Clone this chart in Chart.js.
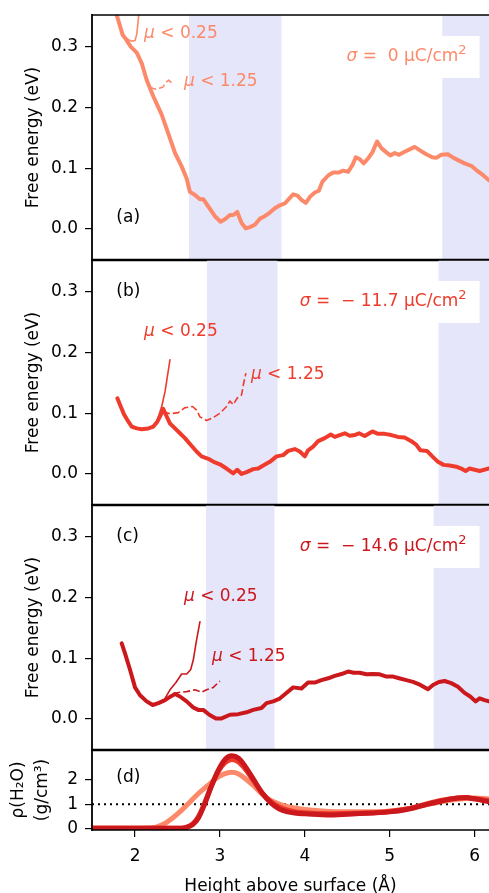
<!DOCTYPE html>
<html>
<head>
<meta charset="utf-8">
<script src="https://cdn.jsdelivr.net/npm/chart.js@4.4.1/dist/chart.umd.min.js"></script>
<style>
  html, body { margin: 0; padding: 0; background: #fff; overflow: hidden; }
  #wrap { position: relative; width: 489px; height: 893px; overflow: hidden; }
  canvas { position: absolute; left: 0; }
</style>
</head>
<body>
<div id="wrap">
  <canvas id="panel-a" width="489" height="262" style="top:0px"></canvas>
  <canvas id="panel-b" width="489" height="249" style="top:258px"></canvas>
  <canvas id="panel-c" width="489" height="249" style="top:503px"></canvas>
  <canvas id="panel-d" width="489" height="150" style="top:748px"></canvas>
</div>
<script>
// axes
const xTicks = [2, 3, 4, 5, 6];
const energyTicks = [0, 0.1, 0.2, 0.3];
const densityTicks = [0, 1, 2];
const densityRef = 1;

const colA = '#fc8a6a';
const colB = '#ef3b2c';
const colC = '#cb181d';

// shaded regions (Å)
const bandsA = [[2.635, 3.726], [5.62, 7]];
const bandsB = [[2.847, 3.679], [5.576, 7]];
const bandsC = [[2.835, 3.643], [5.518, 7]];

// (a) sigma = 0
const curveA = [[1.76,0.37],[1.784,0.352],[1.855,0.319],[1.894,0.312],[1.949,0.300],[2.02,0.290],[2.078,0.273],[2.137,0.245],[2.216,0.218],[2.314,0.188],[2.392,0.157],[2.471,0.125],[2.549,0.103],[2.608,0.083],[2.647,0.061],[2.706,0.056],[2.765,0.049],[2.804,0.049],[2.863,0.037],[2.941,0.021],[3.008,0.012],[3.059,0.016],[3.118,0.023],[3.157,0.023],[3.204,0.028],[3.255,0.010],[3.306,0.001],[3.353,0.003],[3.412,0.007],[3.471,0.017],[3.529,0.021],[3.588,0.027],[3.647,0.034],[3.706,0.039],[3.765,0.042],[3.816,0.050],[3.863,0.057],[3.914,0.055],[3.961,0.048],[4.012,0.043],[4.067,0.054],[4.118,0.060],[4.165,0.063],[4.208,0.078],[4.275,0.088],[4.333,0.093],[4.404,0.093],[4.451,0.096],[4.51,0.094],[4.561,0.105],[4.6,0.118],[4.647,0.115],[4.694,0.108],[4.745,0.116],[4.796,0.126],[4.851,0.144],[4.902,0.133],[4.961,0.126],[5.008,0.121],[5.059,0.125],[5.11,0.122],[5.176,0.127],[5.235,0.131],[5.294,0.135],[5.361,0.129],[5.431,0.123],[5.502,0.118],[5.549,0.117],[5.608,0.122],[5.686,0.123],[5.753,0.117],[5.824,0.112],[5.882,0.108],[5.961,0.104],[6.02,0.097],[6.098,0.089],[6.17,0.080]];
const lowMuA = [[1.90,0.313],[1.96,0.309],[2.0,0.310],[2.02,0.32],[2.035,0.34],[2.05,0.36],[2.06,0.37]];
const highMuA = [[2.169,0.233],[2.247,0.230],[2.325,0.233],[2.365,0.241],[2.396,0.245],[2.435,0.240]];

// (b) sigma = -11.7
const curveB = [[1.792,0.1245],[1.824,0.1136],[1.871,0.098],[1.922,0.086],[1.961,0.078],[2.02,0.075],[2.078,0.0735],[2.157,0.075],[2.216,0.078],[2.263,0.086],[2.306,0.098],[2.333,0.107],[2.365,0.097],[2.412,0.083],[2.471,0.075],[2.529,0.067],[2.588,0.059],[2.655,0.048],[2.725,0.037],[2.784,0.029],[2.863,0.025],[2.941,0.019],[3.0,0.016],[3.078,0.009],[3.157,0.001],[3.204,0.007],[3.255,0.0],[3.314,0.003],[3.392,0.008],[3.451,0.009],[3.51,0.014],[3.588,0.020],[3.667,0.029],[3.745,0.031],[3.804,0.038],[3.882,0.041],[3.941,0.037],[4.0,0.029],[4.039,0.039],[4.098,0.045],[4.157,0.054],[4.235,0.059],[4.306,0.065],[4.353,0.061],[4.412,0.064],[4.471,0.067],[4.529,0.063],[4.588,0.064],[4.639,0.067],[4.706,0.0625],[4.796,0.070],[4.863,0.066],[4.941,0.066],[5.02,0.064],[5.098,0.061],[5.176,0.060],[5.255,0.054],[5.314,0.048],[5.361,0.039],[5.439,0.038],[5.502,0.029],[5.569,0.020],[5.635,0.015],[5.706,0.014],[5.784,0.012],[5.843,0.009],[5.894,0.005],[5.941,0.009],[6.0,0.007],[6.059,0.005],[6.17,0.009]];
const lowMuB = [[2.235,0.081],[2.263,0.089],[2.314,0.111],[2.353,0.135],[2.384,0.163],[2.412,0.188]];
const highMuB = [[2.333,0.103],[2.412,0.099],[2.51,0.101],[2.588,0.109],[2.678,0.111],[2.725,0.105],[2.765,0.094],[2.843,0.088],[2.922,0.093],[3.0,0.100],[3.078,0.111],[3.118,0.120],[3.157,0.114],[3.204,0.125],[3.255,0.130],[3.275,0.146],[3.306,0.166]];

// (c) sigma = -14.6
const curveC = [[1.843,0.1245],[1.882,0.108],[1.941,0.081],[2.0,0.052],[2.059,0.039],[2.137,0.029],[2.208,0.023],[2.275,0.026],[2.353,0.031],[2.431,0.038],[2.471,0.041],[2.529,0.037],[2.608,0.029],[2.686,0.019],[2.745,0.015],[2.804,0.015],[2.875,0.007],[2.953,0.001],[3.02,0.001],[3.118,0.007],[3.216,0.008],[3.314,0.011],[3.392,0.015],[3.49,0.018],[3.549,0.026],[3.627,0.029],[3.698,0.033],[3.776,0.042],[3.863,0.052],[3.961,0.050],[4.039,0.060],[4.118,0.060],[4.196,0.064],[4.275,0.067],[4.353,0.071],[4.431,0.074],[4.51,0.078],[4.576,0.076],[4.647,0.076],[4.725,0.0735],[4.804,0.074],[4.882,0.0735],[4.953,0.070],[5.031,0.070],[5.11,0.067],[5.196,0.064],[5.275,0.061],[5.361,0.056],[5.451,0.049],[5.51,0.056],[5.58,0.061],[5.647,0.0625],[5.725,0.059],[5.804,0.053],[5.882,0.043],[5.949,0.037],[6.012,0.029],[6.059,0.034],[6.118,0.031],[6.17,0.029]];
const lowMuC = [[2.353,0.034],[2.412,0.048],[2.482,0.060],[2.549,0.074],[2.608,0.074],[2.655,0.081],[2.686,0.097],[2.725,0.130],[2.765,0.160]];
const highMuC = [[2.451,0.042],[2.529,0.044],[2.608,0.045],[2.706,0.048],[2.784,0.044],[2.843,0.048],[2.922,0.052],[3.0,0.0625]];

// (d) water density
const rhoA = [[1.49,0],[2.0,0],[2.15,0.01],[2.25,0.05],[2.35,0.2],[2.45,0.45],[2.55,0.75],[2.65,1.1],[2.75,1.45],[2.85,1.75],[2.95,2.05],[3.05,2.25],[3.14,2.32],[3.22,2.25],[3.3,2.05],[3.4,1.75],[3.5,1.4],[3.6,1.15],[3.7,1.0],[3.8,0.9],[3.9,0.83],[4.0,0.78],[4.2,0.72],[4.5,0.68],[4.8,0.68],[5.0,0.72],[5.2,0.8],[5.4,0.95],[5.6,1.1],[5.8,1.2],[6.0,1.25],[6.17,1.22]];
const rhoB = [[1.49,0],[2.5,0],[2.6,0.04],[2.68,0.18],[2.75,0.5],[2.82,1.05],[2.9,1.75],[2.98,2.35],[3.06,2.72],[3.14,2.85],[3.22,2.75],[3.3,2.45],[3.4,1.95],[3.5,1.45],[3.6,1.1],[3.7,0.88],[3.8,0.75],[3.9,0.68],[4.0,0.64],[4.3,0.6],[4.6,0.62],[5.0,0.7],[5.2,0.8],[5.4,0.98],[5.6,1.15],[5.8,1.25],[5.9,1.26],[6.0,1.22],[6.17,1.15]];
const rhoC = [[1.49,0],[2.5,0],[2.6,0.03],[2.68,0.15],[2.75,0.45],[2.82,1.0],[2.9,1.75],[2.98,2.4],[3.06,2.85],[3.14,3.0],[3.22,2.9],[3.3,2.55],[3.4,2.0],[3.5,1.45],[3.6,1.05],[3.7,0.8],[3.8,0.68],[3.9,0.62],[4.0,0.6],[4.3,0.55],[4.6,0.6],[5.0,0.68],[5.2,0.78],[5.4,0.95],[5.6,1.12],[5.8,1.25],[5.9,1.27],[6.0,1.22],[6.17,1.1]];

const X_MIN = 1.493, X_MAX = 6.17;
const FONT = '"DejaVu Sans"';

Chart.defaults.font.family = FONT;
Chart.defaults.font.size = 17;
Chart.defaults.color = '#000';

function series(points, color, width, dash, order, smooth) {
  return {
    data: points.map(p => ({ x: p[0], y: p[1] })),
    borderColor: color,
    borderWidth: width,
    borderDash: dash || [],
    borderCapStyle: dash ? 'butt' : 'round',
    borderJoinStyle: 'round',
    pointRadius: 0,
    tension: smooth ? 0.4 : 0,
    cubicInterpolationMode: smooth ? 'monotone' : 'default',
    fill: false,
    clip: 0,
    order: order
  };
}

const segFont = s => s.sup ? '13px ' + FONT : (s.it ? 'italic 17px ' + FONT : '17px ' + FONT);

// draws text with italic symbol / superscript pieces
function drawRich(ctx, segs, x, y, align, color) {
  let total = 0;
  segs.forEach(s => { ctx.font = segFont(s); total += ctx.measureText(s.t).width; });
  let cx = align === 'right' ? x - total : x;
  ctx.fillStyle = color;
  ctx.textBaseline = 'middle';
  ctx.textAlign = 'left';
  segs.forEach(s => {
    ctx.font = segFont(s);
    ctx.fillText(s.t, cx, s.sup ? y - 6 : y);
    cx += ctx.measureText(s.t).width;
  });
}

const panelPlugin = {
  id: 'panelDeco',
  beforeDatasetsDraw(chart, args, opts) {
    const { ctx, chartArea: a } = chart;
    const xs = chart.scales.x;
    ctx.save();
    ctx.fillStyle = '#e6e6fa';
    (opts.bands || []).forEach(b => {
      const x1 = Math.max(a.left, xs.getPixelForValue(b[0]));
      const x2 = Math.min(a.right, xs.getPixelForValue(b[1]));
      ctx.fillRect(x1, a.top, x2 - x1, a.bottom - a.top);
    });
    ctx.restore();
  },
  afterDatasetsDraw(chart, args, opts) {
    const { ctx, chartArea: a } = chart;
    const xs = chart.scales.x, ys = chart.scales.y;
    ctx.save();
    (opts.labels || []).forEach(l => {
      const px = xs.getPixelForValue(l.x), py = ys.getPixelForValue(l.y);
      if (l.box) {
        let w = 0;
        l.segs.forEach(s => { ctx.font = segFont(s); w += ctx.measureText(s.t).width; });
        ctx.fillStyle = '#fff';
        ctx.fillRect(px - w - 13, py - 21, w + 26, 42);
      }
      drawRich(ctx, l.segs, px, py, l.align, l.color);
    });
    // frame (no right spine, it lies past the picture edge)
    ctx.strokeStyle = '#000';
    ctx.lineWidth = 1.8;
    ctx.beginPath();
    ctx.moveTo(a.left, a.top - 1); ctx.lineTo(a.left, a.bottom + 1);
    ctx.stroke();
    ctx.lineWidth = 1.3;
    ctx.beginPath();
    ctx.moveTo(a.left, a.top); ctx.lineTo(a.right, a.top);
    ctx.stroke();
    ctx.lineWidth = opts.bottomWidth || 1.3;
    ctx.beginPath();
    ctx.moveTo(a.left, a.bottom); ctx.lineTo(a.right, a.bottom);
    ctx.stroke();
    ctx.restore();
  }
};

function sigmaLabel(value, color) {
  return { x: 5.906, y: 0.283, align: 'right', color, box: true,
    segs: [{ t: 'σ', it: true }, { t: ' =  ' + value + ' μC/cm' }, { t: '2', sup: true }] };
}
function muLabel(limit, x, y, color) {
  return { x, y, align: 'left', color, segs: [{ t: 'μ', it: true }, { t: ' < ' + limit }] };
}
function tagLabel(tag, x, y) {
  return { x, y, align: 'left', color: '#000', segs: [{ t: tag }] };
}

function noPad(s) {
  s.paddingTop = 0; s.paddingBottom = 0; s.paddingLeft = 0; s.paddingRight = 0;
}

function createPanel(id, datasets, y, deco, bottom) {
  const tickGrid = { drawOnChartArea: false, drawTicks: true, tickLength: 7, color: '#000', lineWidth: 1.2 };
  return new Chart(document.getElementById(id), {
    type: 'line',
    data: { datasets },
    plugins: [panelPlugin],
    options: {
      responsive: false,
      animation: false,
      devicePixelRatio: 1,
      events: [],
      layout: { padding: { top: y.padTop, bottom: bottom ? 0 : 2, left: 0, right: 0 } },
      plugins: { legend: { display: false }, tooltip: { enabled: false }, panelDeco: deco },
      scales: {
        x: {
          type: 'linear', min: X_MIN, max: X_MAX,
          display: !!bottom,
          afterBuildTicks: s => { s.ticks = xTicks.map(v => ({ value: v })); },
          afterFit: s => { noPad(s); if (bottom) s.height = 68; },
          grid: tickGrid,
          border: { display: false },
          ticks: { padding: 9, maxRotation: 0, callback: v => String(v) },
          title: { display: true, text: 'Height above surface (Å)', padding: { top: 0, bottom: 1 },
                   font: { size: 17, lineHeight: 1.2 } }
        },
        y: {
          type: 'linear', min: y.min, max: y.max,
          afterBuildTicks: s => { s.ticks = y.ticks.map(v => ({ value: v })); },
          afterFit: s => { noPad(s); s.width = 92; },
          grid: tickGrid,
          border: { display: false },
          ticks: { padding: 7, callback: y.fmt },
          title: { display: true, text: y.title, padding: { top: y.titlePad, bottom: 0 },
                   font: { size: 17, lineHeight: y.titleLH } }
        }
      }
    }
  });
}

const energyAxis = padTop => ({ min: -0.051, max: 0.352, ticks: energyTicks, fmt: v => v.toFixed(1),
  title: 'Free energy (eV)', titlePad: 23, titleLH: 1.2, padTop });

createPanel('panel-a', [
  series(curveA, colA, 4, null, 0),
  series(lowMuA, colA, 1.6, null, 1),
  series(highMuA, colA, 1.6, [7, 3], 2)
], energyAxis(15), {
  bands: bandsA, bottomWidth: 2.4,
  labels: [tagLabel('(a)', 1.78, 0.018), sigmaLabel('0', colA),
           muLabel('0.25', 2.106, 0.322, colA), muLabel('1.25', 2.576, 0.242, colA)]
});

createPanel('panel-b', [
  series(curveB, colB, 4, null, 0),
  series(lowMuB, colB, 1.6, null, 1),
  series(highMuB, colB, 1.6, [7, 3], 2)
], energyAxis(2), {
  bands: bandsB, bottomWidth: 2.4,
  labels: [tagLabel('(b)', 1.78, 0.30), sigmaLabel('− 11.7', colB),
           muLabel('0.25', 2.106, 0.234, colB), muLabel('1.25', 3.365, 0.163, colB)]
});

createPanel('panel-c', [
  series(curveC, colC, 4, null, 0),
  series(lowMuC, colC, 1.6, null, 1),
  series(highMuC, colC, 1.6, [7, 3], 2)
], energyAxis(2), {
  bands: bandsC, bottomWidth: 2.4,
  labels: [tagLabel('(c)', 1.78, 0.30), sigmaLabel('− 14.6', colC),
           muLabel('0.25', 2.576, 0.201, colC), muLabel('1.25', 2.906, 0.1025, colC)]
});

createPanel('panel-d', [
  series(rhoC, colC, 5, null, 0, true),
  series(rhoB, colB, 5, null, 1, true),
  series(rhoA, colA, 5, null, 2, true),
  series([[X_MIN, densityRef], [X_MAX, densityRef]], '#000', 2, [2, 4], 3)
], { min: -0.07, max: 3.24, ticks: densityTicks, fmt: v => String(v),
     title: ['ρ(H₂O)', '(g/cm³)'], titlePad: 7, titleLH: 1.41, padTop: 2 }, {
  bands: [], bottomWidth: 1.3,
  labels: [tagLabel('(d)', 1.78, 2.08)]
}, true);
</script>
</body>
</html>
